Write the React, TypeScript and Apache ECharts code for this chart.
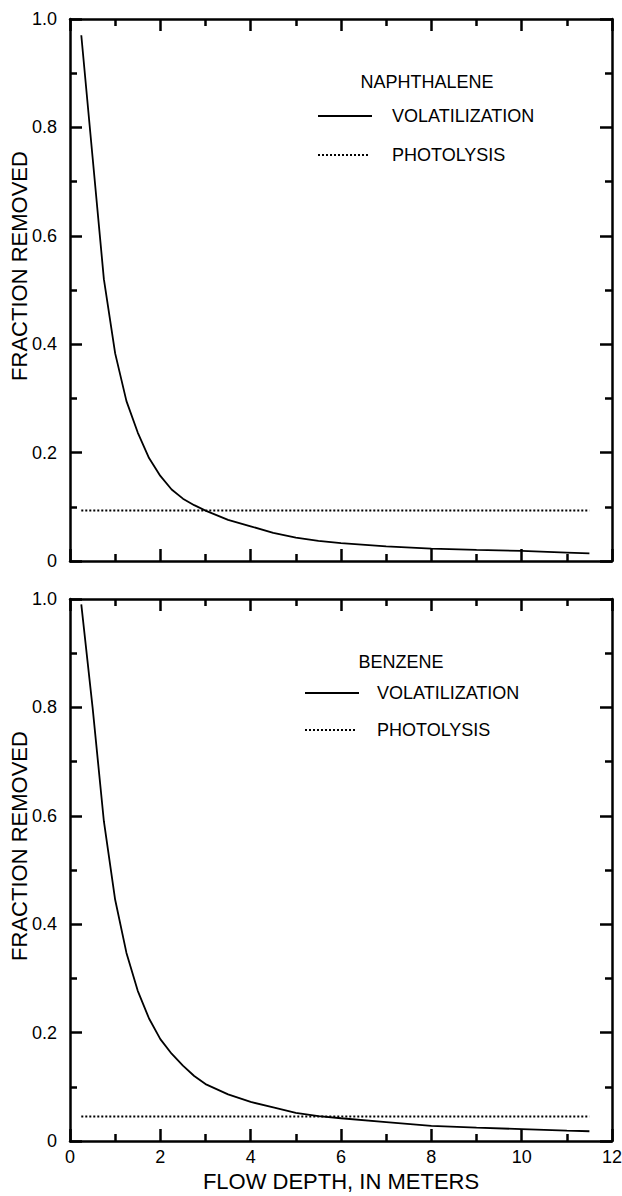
import React, { useEffect, useRef } from "react";
import * as echarts from "echarts";

// Flow depth (m) at which removal fractions were computed
const depth = [0.25, 0.5, 0.75, 1.0, 1.25, 1.5, 1.75, 2.0, 2.25, 2.5, 2.75, 3.0, 3.5, 4.0, 4.5, 5.0, 5.5, 6.0, 7.0, 8.0, 9.0, 10.0, 11.0, 11.5];
const naphthaleneVolatilization = [0.97, 0.745, 0.52, 0.383, 0.295, 0.237, 0.19, 0.157, 0.132, 0.115, 0.103, 0.093, 0.076, 0.064, 0.052, 0.043, 0.037, 0.033, 0.027, 0.023, 0.0205, 0.0185, 0.0155, 0.014];
const benzeneVolatilization = [0.99, 0.8, 0.59, 0.445, 0.347, 0.277, 0.226, 0.188, 0.161, 0.139, 0.12, 0.105, 0.086, 0.072, 0.062, 0.052, 0.046, 0.042, 0.035, 0.028, 0.0245, 0.022, 0.019, 0.018];
const photolysisDepth = [0.25, 11.5];
const naphthalenePhotolysis = [0.093, 0.093];
const benzenePhotolysis = [0.045, 0.045];

const compounds = ["NAPHTHALENE", "BENZENE"];
const processNames = ["VOLATILIZATION", "PHOTOLYSIS"];
const xTitle = "FLOW DEPTH, IN METERS";
const yTitle = "FRACTION REMOVED";

const FONT = "'Liberation Sans', Arial, Helvetica, sans-serif";
const BLACK = "#000";

const pairs = (xs: number[], ys: number[]) => xs.map((x, i) => [x, ys[i]]);

// Fresh axis decoration objects for every axis
const axisLine = () => ({ show: true, onZero: false, lineStyle: { color: BLACK, width: 2.5 } });
const axisTick = () => ({ show: true, inside: true, length: 12, lineStyle: { color: BLACK, width: 2.5 } });
const minorTick = () => ({ show: true, splitNumber: 2, length: 7, lineStyle: { color: BLACK, width: 2.5 } });

export default function App() {
  const ref = useRef<HTMLDivElement>(null);

  useEffect(() => {
    if (!ref.current) return;
    const chart = echarts.init(ref.current, null, { renderer: "svg" });

    const panels = [
      { top: 19, vol: naphthaleneVolatilization, photo: naphthalenePhotolysis },
      { top: 599, vol: benzeneVolatilization, photo: benzenePhotolysis },
    ];
    const left = 70;
    const size = 542;

    const labelStyle = { color: BLACK, fontSize: 18, fontFamily: FONT };
    const titleStyle = { color: BLACK, fontSize: 22, fontFamily: FONT };

    const grid: any[] = [];
    const xAxis: any[] = [];
    const yAxis: any[] = [];
    const series: any[] = [];
    const graphic: any[] = [];

    // Legend block positions for each panel
    const legendPos = [
      { titleX: 427, titleY: 82, lineX: 318, textX: 392, y1: 116, y2: 155 },
      { titleX: 401, titleY: 662, lineX: 305, textX: 377, y1: 693, y2: 730 },
    ];

    panels.forEach((p, i) => {
      const isLast = i === panels.length - 1;
      grid.push({ left, top: p.top, width: size, height: size, outerBoundsMode: "none" });

      const xBase = () => ({
        type: "value",
        gridIndex: i,
        min: 0,
        max: 12,
        interval: 2,
        axisLine: axisLine(),
        axisTick: axisTick(),
        minorTick: minorTick(),
        splitLine: { show: false },
        minorSplitLine: { show: false },
      });
      xAxis.push({
        ...xBase(),
        position: "bottom",
        axisLabel: isLast ? { ...labelStyle, margin: 7 } : { show: false },
        name: isLast ? xTitle : "",
        nameLocation: "middle",
        nameGap: 29,
        nameTextStyle: titleStyle,
      });
      xAxis.push({ ...xBase(), position: "top", axisLabel: { show: false } });

      const yBase = () => ({
        type: "value",
        gridIndex: i,
        min: 0,
        max: 1,
        interval: 0.2,
        axisLine: axisLine(),
        axisTick: axisTick(),
        minorTick: minorTick(),
        splitLine: { show: false },
        minorSplitLine: { show: false },
      });
      yAxis.push({
        ...yBase(),
        position: "left",
        axisLabel: {
          ...labelStyle,
          margin: 13,
          formatter: (v: number) => (v === 0 ? "0" : v.toFixed(1)),
        },
      });
      yAxis.push({ ...yBase(), position: "right", axisLabel: { show: false } });

      series.push({
        type: "line",
        name: `${compounds[i]} ${processNames[0]}`,
        xAxisIndex: 2 * i,
        yAxisIndex: 2 * i,
        data: pairs(depth, p.vol),
        showSymbol: false,
        smooth: false,
        lineStyle: { color: BLACK, width: 1.8 },
      });
      series.push({
        type: "line",
        name: `${compounds[i]} ${processNames[1]}`,
        xAxisIndex: 2 * i,
        yAxisIndex: 2 * i,
        data: pairs(photolysisDepth, p.photo),
        showSymbol: false,
        lineStyle: { color: BLACK, width: 2, type: [2, 2] },
      });

      const lp = legendPos[i];
      const textStyle = (text: string, align: string, fontSize = 18) => ({
        text,
        fill: BLACK,
        fontSize,
        fontFamily: FONT,
        align,
        verticalAlign: "middle",
        textAlign: align,
        textVerticalAlign: "middle",
      });
      graphic.push(
        // vertical axis title, sitting a little above the panel's middle
        {
          type: "text",
          x: 19,
          y: p.top + 247,
          rotation: Math.PI / 2,
          style: textStyle(yTitle, "center", 22),
        },
        { type: "text", x: lp.titleX, y: lp.titleY, style: textStyle(compounds[i], "center") },
        {
          type: "line",
          shape: { x1: lp.lineX, y1: lp.y1, x2: lp.lineX + 54, y2: lp.y1 },
          style: { stroke: BLACK, lineWidth: 1.8 },
        },
        { type: "text", x: lp.textX, y: lp.y1, style: textStyle(processNames[0], "left") },
        {
          type: "line",
          shape: { x1: lp.lineX, y1: lp.y2, x2: lp.lineX + 51, y2: lp.y2 },
          style: { stroke: BLACK, lineWidth: 2, lineDash: [2, 2] },
        },
        { type: "text", x: lp.textX, y: lp.y2, style: textStyle(processNames[1], "left") }
      );
    });

    chart.setOption({
      animation: false,
      backgroundColor: "#fff",
      grid,
      xAxis,
      yAxis,
      series,
      graphic,
    });

    return () => chart.dispose();
  }, []);

  return (
    <div
      ref={ref}
      style={{ position: "absolute", left: 0, top: 0, width: 622, height: 1196, background: "#fff" }}
    />
  );
}
